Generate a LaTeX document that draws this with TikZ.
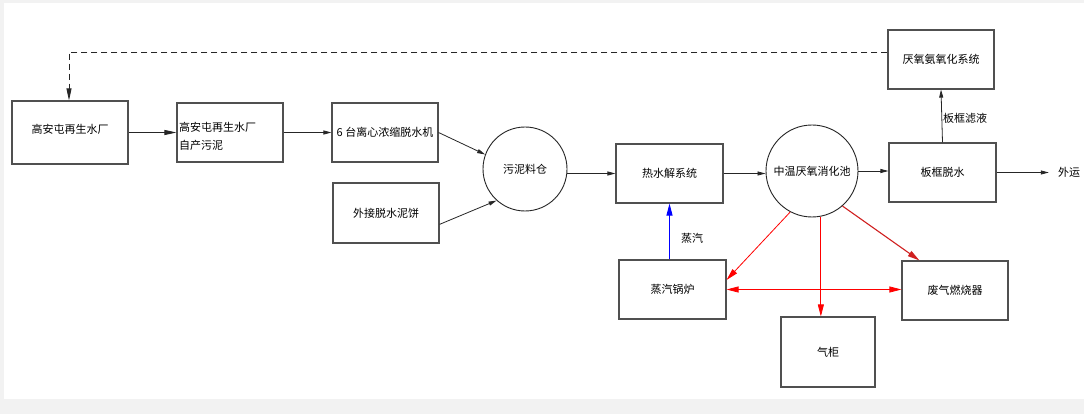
\documentclass[tikz,border=0pt]{standalone}
\usepackage{fontspec}
\newfontfamily\cjk{Noto Sans CJK SC}
\usetikzlibrary{arrows.meta,calc}
\definecolor{frame}{HTML}{F2F2F2}
\definecolor{boxline}{HTML}{505050}
\definecolor{darkred}{HTML}{D02020}
\tikzset{
  every node/.style={font=\cjk\fontsize{11}{14}\selectfont, inner sep=0pt},
  box/.style={draw=boxline, line width=1.1pt, minimum width=#1, minimum height=59pt},
  roundbox/.style={draw=black!85, line width=0.9pt, circle, minimum size=#1},
  conn/.style={draw=black!85, line width=0.8pt, -{Triangle[length=8pt,width=4pt]}},
  bigconn/.style={draw=black!85, line width=0.8pt, -{Triangle[length=12pt,width=5pt]}},
  redconn/.style={draw=red, line width=0.8pt, -{Triangle[length=12pt,width=6pt]}},
  lbl/.style={font=\cjk\fontsize{11}{14}\selectfont}
}
\begin{document}
\begin{tikzpicture}[x=1pt,y=-1pt]
\fill[frame] (0,0) rectangle (1084,414);
\fill[white] (4,3) rectangle (1084,399);
\useasboundingbox (0,0) rectangle (1084,414);

% boxes
\node[box=116pt, minimum height=63pt] (A) at (70,132.5) {};
\node at (70,129) {高安屯再生水厂};
\node[box=106pt] (B) at (230,132.5) {};
\node[anchor=west, align=left, font=\cjk\fontsize{11}{18}\selectfont] (Bt) at (179,136) {高安屯再生水厂\\自产污泥};
\node[box=106pt] (C) at (385,132.5) {6 台离心浓缩脱水机};
\node[box=106pt, minimum height=60pt] (D) at (386,213) {外接脱水泥饼};
\node[roundbox=84pt] (S) at (525,169) {污泥料仓};
\node[box=107pt] (E) at (669.5,173.5) {热水解系统};
\node[roundbox=92pt] (G0) at (812,171) {中温厌氧消化池};
\node[box=107pt] (F) at (672.5,289.5) {蒸汽锅炉};
\node[box=94pt, minimum height=70pt] (G) at (828,352) {气柜};
\node[box=106pt] (H) at (955,290.5) {废气燃烧器};
\node[box=107pt] (I) at (942.5,172.5) {板框脱水};
\node[box=106pt] (J) at (941,59.5) {厌氧氨氧化系统};
\node (out) at (1069,172.5) {外运};
\node[lbl] (steam) at (692,238) {蒸汽};
\node[lbl] (filt) at (965,118) {板框滤液};

% main flow
\draw[bigconn] (A.east) -- (B.west);
\draw[conn] (B.east) -- (C.west);
\draw[conn] (C.east) -- (S.160);
\draw[conn] (D.348) -- (S.228);
\draw[conn] (E.west -| S.east) -- (E.west);
\draw[conn] (E.east) -- (E.east -| G0.west);
\draw[conn] (G0.east) -- (G0.east -| I.west);
\draw[conn] (I.east) -- ($(out.west)+(-9,0)$);
\draw[conn] (I.north) -- (J.south);

% dashed return
\coordinate (d1) at (69,52);
\draw[bigconn, dashed, dash pattern=on 6pt off 4pt] (J.west |- d1) -- (d1) -- (d1 |- A.north);

% steam
\draw[draw=blue, line width=0.9pt, -{Triangle[length=12pt,width=6pt]}] (E.south |- F.north) -- (E.south);

% red gas lines
\draw[redconn] (G0.242) -- (F.10);
\draw[redconn] (G0.281) -- (G0.281 |- G.north);
\draw[redconn, draw=darkred, line width=1.1pt] (G0.311) -- ($(H.north west)+(18,0)$);
\draw[redconn, {Triangle[length=12pt,width=6pt]}-{Triangle[length=12pt,width=6pt]}] (F.east) -- (F.east -| H.west);
\end{tikzpicture}
\end{document}
